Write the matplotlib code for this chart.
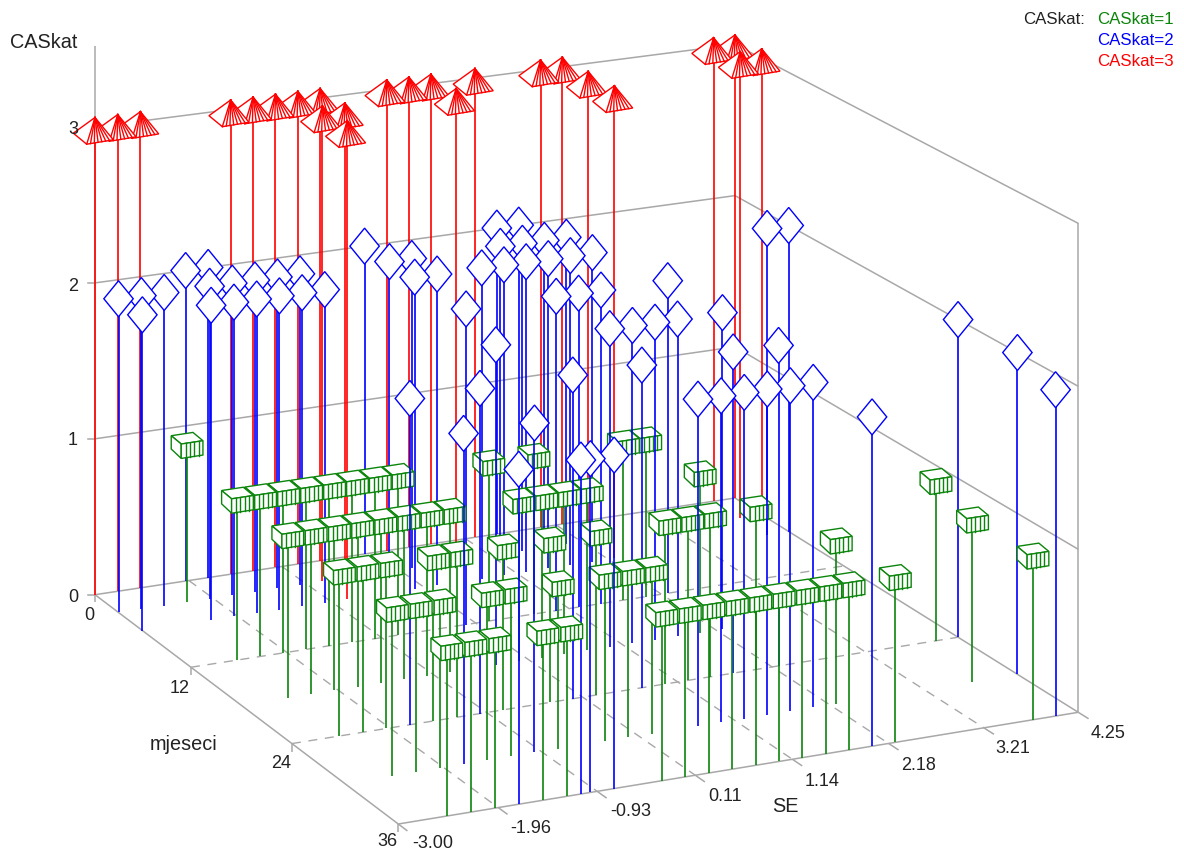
import numpy as np
import matplotlib
matplotlib.use('Agg')
import matplotlib.pyplot as plt
from matplotlib.patches import Polygon

plt.rcParams['font.family'] = ['Liberation Sans', 'DejaVu Sans']

# CASkat = 1
se_green = [-2.25,
            -2.5, -2.25, -2, -1.75, -1.5, -1.25, -1, -0.75,
            -2.5, -2.25, -2, -1.75, -1.5, -1.25, -1, -0.75,
            -2.5, -2.25, -2, -1.5, -1.25,
            -2.5, -2.25, -2, -2.5, -2.25, -2,
            -1.5, -1.25, -1.5, -1.25, -0.75, -0.25, 0, 0.25,
            -0.25, 0, 0.25, 0.5, 0.75, 1, 1.25, 1.5, 1.75,
            0.25, 0.75, 1.75, 2, 2, 0, 0.25, 0.5, 0.75,
            1, 1.25, 1.5, 2, -0.25, 0.25, -0.75, 2.25,
            4, 3.75, 3.75, 2.25]
m_green = [3,
           12, 12, 12, 12, 12, 12, 12, 12,
           18, 18, 18, 18, 18, 18, 18, 18,
           24, 24, 24, 24, 24,
           30, 30, 30, 36, 36, 36,
           30, 30, 36, 36, 30, 30, 30, 30,
           36, 36, 36, 36, 36, 36, 36, 36, 36,
           12, 12, 12, 12, 18, 18, 18, 18, 18,
           24, 24, 24, 24, 24, 24, 24, 30,
           24, 30, 36, 36]

# CASkat = 2
se_blue = [-3, -2.75, -2.5, -2, -1.75, -3, -2, -2.25, -1.75, -2, -1.5, -1.75,
           -1.25, -1.5, -1, -1.25, -1, 0, 0, 0.25, 0, 0.25, -1.75,
           1.5, 1.75, 1.25, 1.5, 0.75, 1, 1.25, 1.75, 2, 1.5, 1.75, 2,
           1, 1.25, 1.5, 2.25, 4, 4.25, 2.25, 0, -0.25, -1, -1.75, -1, 0,
           1, 1.25, 1.5, 1.75, 1.75, 2.25, 0.75, 0.75, 1, 1.25, 1.5, 1.75, 2,
           -1.1, -1, -0.75, -1.75, 4.25, 4.25, 4, 2]
m_blue = [3, 3, 3, 0, 0, 6, 3, 6, 3, 6, 3, 6,
          3, 6, 3, 6, 6, 0, 3, 3, 6, 6, 24,
          0, 0, 3, 3, 6, 6, 6, 3, 3, 6, 6, 6,
          12, 12, 12, 12, 6, 6, 18, 12, 18, 24, 30, 30, 24,
          18, 18, 18, 18, 24, 24, 24, 30, 30, 30, 30, 30, 30,
          36, 36, 36, 36, 24, 30, 36, 36]

# CASkat = 3
se_red = [-3, -2.75, -2.5, -1.5, -1.25, -1, -0.75, -0.5, -0.75, -0.5, -0.75,
          0.25, 0.5, 0.75, 0.75, 1.25, 2, 2.25, 2.25, 2.25, 4, 4.25, 4, 4.25]
m_red = [0, 0, 0, 0, 0, 0, 0, 0, 3, 3, 6,
         0, 0, 0, 3, 0, 0, 0, 3, 6, 0, 0, 3, 3]

se_ticks = [-3, -1.964, -0.929, 0.107, 1.143, 2.179, 3.214, 4.25]
se_labels = ['-3.00', '-1.96', '-0.93', '0.11', '1.14', '2.18', '3.21', '4.25']
m_ticks = [0, 12, 24, 36]
z_ticks = [0, 1, 2, 3]

GRAY = '#a8a8a8'
TXT = '#222222'
GREEN = '#0c850c'
BLUE = '#0000ff'
RED = '#ff0000'

# floor corners in pixels, the rest follows from them (perspective)
A = (95, 595.7); B = (398.3, 825); C = (1078.3, 713.3); D = (735, 499); K = 467.7
dx1 = D[0]-C[0]; dx2 = B[0]-C[0]; sx = A[0]-D[0]+C[0]-B[0]
dy1 = D[1]-C[1]; dy2 = B[1]-C[1]; sy = A[1]-D[1]+C[1]-B[1]
det = dx1*dy2-dx2*dy1
g = (sx*dy2-dx2*sy)/det
h = (dx1*sy-sx*dy1)/det
a = D[0]-A[0]+g*D[0]; b = B[0]-A[0]+h*B[0]
d = D[1]-A[1]+g*D[1]; e = B[1]-A[1]+h*B[1]


def project(se, m, z):
    u = (se+3)/7.25
    v = m/36
    w = 1+g*u+h*v
    return (a*u+b*v+A[0])/w, (d*u+e*v+A[1]-K*z/3)/w


fig = plt.figure(figsize=(11.84, 8.54), dpi=100)
ax = fig.add_axes([0, 0, 1, 1])
ax.set_axis_off()
ax.set_xlim(0, 1184)
ax.set_ylim(854, 0)


def line3d(p0, p1, **kw):
    x0, y0 = project(*p0)
    x1, y1 = project(*p1)
    kw.setdefault('color', GRAY)
    kw.setdefault('lw', 1.1)
    ax.plot([x0, x1], [y0, y1], zorder=1, solid_capstyle='butt', **kw)


# box
line3d((-3, 0, 0), (-3, 0, 3.52))
line3d((4.25, 36, 0), (4.25, 36, 3))
line3d((-3, 0, 0), (-3, 36, 0))
line3d((-3, 36, 0), (4.25, 36, 0))
for z in z_ticks:
    line3d((-3, 0, z), (4.25, 0, z))
    line3d((4.25, 0, z), (4.25, 36, z))
    x, y = project(-3, 0, z)
    ax.plot([x-7, x], [y, y], color=GRAY, lw=1.1, zorder=1)

# dashed floor grid and ticks
dash = (0, (6.5, 5.5))
for s in se_ticks:
    if s > -3 and s < 4.25:
        line3d((s, 0, 0), (s, 36, 0), ls=dash, lw=1.0)
    line3d((s, 36, 0), (s, 37, 0))
for m in m_ticks:
    if 0 < m < 36:
        line3d((-3, m, 0), (4.25, m, 0), ls=dash, lw=1.0)
    line3d((-3, m, 0), (-3, m, -0.05))

MLW = 1.0


def add_poly(pts, x, y, col, zo):
    ax.add_patch(Polygon([(x+p, y+q) for p, q in pts], closed=True, fc='white',
                         ec=col, lw=MLW, zorder=zo, joinstyle='miter'))


def draw_green(x, y, zo):
    add_poly([(-15.7, -10), (6, -13.3), (16, -5), (-5.7, -1.7)], x, y, GREEN, zo)
    add_poly([(-15.7, -10), (-5.7, -1.7), (-5.7, 12.7), (-15.7, 3.3)], x, y, GREEN, zo)
    add_poly([(-5.7, -1.7), (16, -5), (16, 9.3), (-5.7, 12.7)], x, y, GREEN, zo)
    for t in [0.2, 0.4, 0.6, 0.8]:
        px = -5.7+21.7*t
        ax.plot([x+px, x+px], [y-1.7-3.3*t, y+12.7-3.4*t], color=GREEN, lw=MLW, zorder=zo)


def draw_blue(x, y, zo):
    add_poly([(0, -18), (14.7, 0), (0, 18), (-14.7, 0)], x, y, BLUE, zo)


def draw_red(x, y, zo):
    top = (0, -9.5)
    left = (-21.7, 6.2)
    front = (-8.3, 17.2)
    right = (18.3, 12.8)
    add_poly([top, left, front, right], x, y, RED, zo)
    for t in np.linspace(0, 1, 8)[:-1]:
        ex = front[0]+(right[0]-front[0])*t
        ey = front[1]+(right[1]-front[1])*t
        ax.plot([x+top[0], x+ex], [y+top[1], y+ey], color=RED, lw=MLW, zorder=zo)


# everything back to front: low months first, high SE first
points = []
for se_vals, m_vals, z, col, draw in [(se_green, m_green, 1, GREEN, draw_green),
                                      (se_blue, m_blue, 2, BLUE, draw_blue),
                                      (se_red, m_red, 3, RED, draw_red)]:
    for s, m in zip(se_vals, m_vals):
        points.append((m, -s, s, z, col, draw))
points.sort(key=lambda p: (p[0], p[1]))

for i, (m, _, s, z, col, draw) in enumerate(points):
    zo = 2+i*0.01
    x0, y0 = project(s, m, 0)
    x1, y1 = project(s, m, z)
    ax.plot([x0, x1], [y0, y1], color=col, lw=1.2, zorder=zo, solid_capstyle='butt')
    draw(x1, y1, zo)

# text
fs = 13
se_lab_x = [433, 531, 631, 725, 822, 919, 1013, 1108]
se_lab_y = [844, 829, 812, 797, 782, 766, 749, 734]
for lab, x, y in zip(se_labels, se_lab_x, se_lab_y):
    ax.text(x, y, lab, fontsize=fs, color=TXT, ha='center', va='center')
m_lab_x = [89, 180, 281, 387]
m_lab_y = [616, 689, 764, 842]
for m, x, y in zip(m_ticks, m_lab_x, m_lab_y):
    ax.text(x, y, str(m), fontsize=fs, color=TXT, ha='center', va='center')
z_lab_y = [597.5, 440.5, 286.5, 129.5]
for z, y in zip(z_ticks, z_lab_y):
    ax.text(73, y, str(z), fontsize=fs, color=TXT, ha='center', va='center')
ax.text(43.5, 42, 'CASkat', fontsize=14.3, color=TXT, ha='center', va='center')
ax.text(183.5, 745, 'mjeseci', fontsize=14.3, color=TXT, ha='center', va='center')
ax.text(785, 807, 'SE', fontsize=14.3, color=TXT, ha='center', va='center')

lfs = 12.2
ax.text(1085, 19.5, 'CASkat:', fontsize=lfs, color=TXT, ha='right', va='center')
ax.text(1097.5, 19.5, 'CASkat=1', fontsize=lfs, color=GREEN, ha='left', va='center')
ax.text(1097.5, 40.5, 'CASkat=2', fontsize=lfs, color=BLUE, ha='left', va='center')
ax.text(1097.5, 61.5, 'CASkat=3', fontsize=lfs, color=RED, ha='left', va='center')

fig.savefig('out.png', dpi=100)
